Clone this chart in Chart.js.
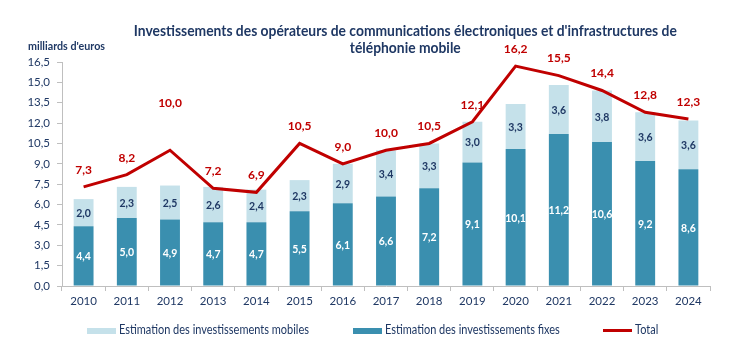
<!DOCTYPE html>
<html><head><meta charset="utf-8">
<script src="https://cdn.jsdelivr.net/npm/chart.js@4/dist/chart.umd.min.js"></script>
<style>
html,body{margin:0;padding:0;background:#fff;}
#wrap{position:relative;width:730px;height:356px;overflow:hidden;}
#c{position:absolute;left:0;top:0;}
.txt{position:absolute;font-family:Lato,"Open Sans",sans-serif;color:#1F3864;white-space:nowrap;}
#title{left:74px;width:656px;text-align:center;font-weight:bold;line-height:17px;top:22px;font-size:14.5px;transform-origin:402px 0;}
#unit{left:28px;top:39px;font-weight:bold;line-height:14px;font-size:11px;transform-origin:0 0;}
.sw{position:absolute;}
.lg{position:absolute;font-family:Lato,"Open Sans",sans-serif;color:#1F3864;white-space:nowrap;line-height:14px;top:323px;font-size:12.5px;transform-origin:0 0;}
</style>
</head><body>
<div id="wrap">
<canvas id="c" width="730" height="356"></canvas>
<div id="title" class="txt"><div id="t1">Investissements des opérateurs de communications électroniques et d'infrastructures de</div><div>téléphonie mobile</div></div>
<div id="unit" class="txt">milliards d'euros</div>
<div class="sw" style="left:87px;top:328px;width:29px;height:6px;background:#C5E1EA;"></div>
<div class="lg" id="lg1" style="left:119px;">Estimation des investissements mobiles</div>
<div class="sw" style="left:353px;top:328px;width:29px;height:6px;background:#3A8FAF;"></div>
<div class="lg" id="lg2" style="left:385px;">Estimation des investissements fixes</div>
<div class="sw" style="left:603px;top:329px;width:29px;height:3px;background:#C00000;"></div>
<div class="lg" id="lg3" style="left:635px;">Total</div>
</div>
<script>
const years = ['2010','2011','2012','2013','2014','2015','2016','2017','2018','2019','2020','2021','2022','2023','2024'];
const fixedInv = [4.4,5.0,4.9,4.7,4.7,5.5,6.1,6.6,7.2,9.1,10.1,11.2,10.6,9.2,8.6];
const mobileInv = [2.0,2.3,2.5,2.6,2.4,2.3,2.9,3.4,3.3,3.0,3.3,3.6,3.8,3.6,3.6];
const totalInv = [7.3,8.2,10.0,7.2,6.9,10.5,9.0,10.0,10.5,12.1,16.2,15.5,14.4,12.8,12.3];
const yMax = 16.5, yStep = 1.5;

const NAVY = '#1F3864', FIX = '#3A8FAF', MOB = '#C5E1EA', RED = '#C00000';
const FONT = 'Lato, "Open Sans", sans-serif';

function textWidth(text, font){
  const c = document.createElement('canvas').getContext('2d');
  c.font = font;
  return c.measureText(text).width;
}
function squeeze(el, text, font, target){
  const s = target / textWidth(text, font);
  el.style.transform = 'scaleX(' + s.toFixed(4) + ')';
}
squeeze(document.getElementById('title'), document.getElementById('t1').textContent, 'bold 14.5px ' + FONT, 543);
squeeze(document.getElementById('unit'), 'milliards d\'euros', 'bold 11px ' + FONT, 77);
const lgW = textWidth('Estimation des investissements mobiles', '12.5px ' + FONT);
const lgS = 190 / lgW;
['lg1','lg2','lg3'].forEach(id => document.getElementById(id).style.transform = 'scaleX(' + lgS.toFixed(4) + ')');

const fmt = v => v.toFixed(1).replace('.', ',');
const totalLabelLift = {2: 47};

const valuePlugin = {
  id: 'values',
  afterDatasetsDraw(chart){
    const ctx = chart.ctx;
    ctx.save();
    ctx.textAlign = 'center';
    ctx.textBaseline = 'middle';
    ctx.font = 'bold 10.5px ' + FONT;
    chart.getDatasetMeta(0).data.forEach((bar, i) => {
      const p = bar.getProps(['x','y','base'], true);
      ctx.fillStyle = '#FFFFFF';
      ctx.fillText(fmt(fixedInv[i]), p.x, (p.y + p.base) / 2 + 1);
    });
    chart.getDatasetMeta(1).data.forEach((bar, i) => {
      const p = bar.getProps(['x','y','base'], true);
      ctx.fillStyle = NAVY;
      ctx.fillText(fmt(mobileInv[i]), p.x, (p.y + p.base) / 2 + 1);
    });
    ctx.font = 'bold 12px ' + FONT;
    chart.getDatasetMeta(2).data.forEach((pt, i) => {
      const p = pt.getProps(['x','y'], true);
      ctx.fillStyle = RED;
      ctx.fillText(fmt(totalInv[i]), p.x, p.y - (totalLabelLift[i] || 17));
    });
    ctx.restore();
  }
};

new Chart(document.getElementById('c'), {
  data: {
    labels: years,
    datasets: [
      {type:'bar', label:'Estimation des investissements fixes', data: fixedInv, backgroundColor: FIX, stack:'inv', order:2, barPercentage:0.46, categoryPercentage:1},
      {type:'bar', label:'Estimation des investissements mobiles', data: mobileInv, backgroundColor: MOB, stack:'inv', order:2, barPercentage:0.46, categoryPercentage:1},
      {type:'line', label:'Total', data: totalInv, borderColor: RED, backgroundColor: RED, borderWidth:3, pointRadius:0, tension:0, stack:'tot', order:0, fill:false}
    ]
  },
  options: {
    responsive:false, animation:false, devicePixelRatio:1,
    layout:{padding:{top:62,right:20,left:0,bottom:0}},
    plugins:{legend:{display:false}, tooltip:{enabled:false}, title:{display:false}},
    scales:{
      x:{
        stacked:true,
        grid:{offset:true, drawOnChartArea:false, drawTicks:true, tickLength:5, color:'#BFBFBF'},
        border:{color:'#BFBFBF', width:1},
        ticks:{color:NAVY, font:{family:FONT, size:11.5}, padding:3, maxRotation:0},
        afterFit(s){ s.height = 70; }
      },
      y:{
        stacked:true, min:0, max:yMax,
        grid:{drawOnChartArea:false, drawTicks:true, tickLength:5, color:'#BFBFBF'},
        border:{color:'#BFBFBF', width:1},
        ticks:{stepSize:yStep, color:NAVY, font:{family:FONT, size:11.5}, padding:7, callback:v=>fmt(v)},
        afterFit(s){ s.width = 62; }
      }
    }
  },
  plugins:[valuePlugin]
});
</script>
</body></html>
